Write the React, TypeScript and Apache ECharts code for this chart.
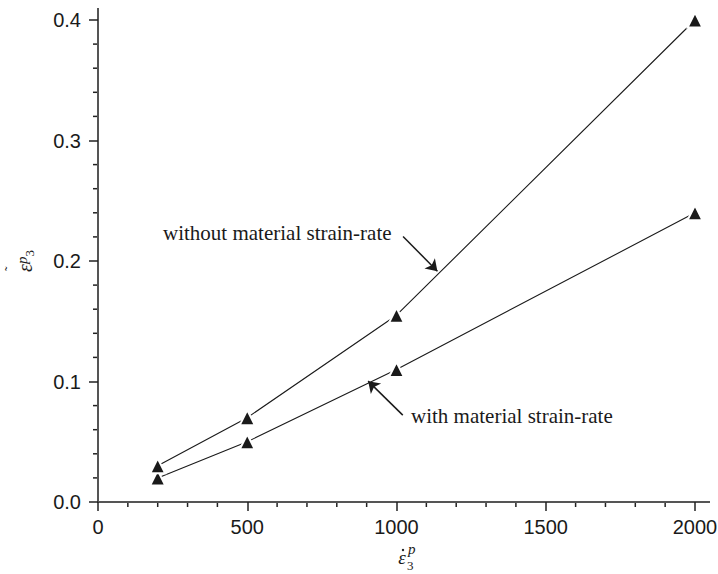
import { useEffect, useRef } from "react";
import * as echarts from "echarts";

// strain-rate levels and the plastic strain reached at each
const strainRates = [200, 500, 1000, 2000];
const withoutMaterialRate = [0.03, 0.07, 0.155, 0.4];
const withMaterialRate = [0.02, 0.05, 0.11, 0.24];

// axis ranges and tick spacing
const xRange = [0, 2000];
const xInterval = 500;
const yRange = [0, 0.4];
const yInterval = 0.1;
const xMinorTicks = [100, 200, 300, 400, 600, 700, 800, 900, 1100, 1200, 1300, 1400, 1600, 1700, 1800, 1900];
const yMinorTicks = [0.02, 0.04, 0.06, 0.08, 0.12, 0.14, 0.16, 0.18, 0.22, 0.24, 0.26, 0.28, 0.32, 0.34, 0.36, 0.38];

// annotation arrows, in data coordinates (tail, head)
const arrowWithout = [[1022, 0.2204], [1137, 0.1915]];
const arrowWith = [[1021, 0.0721], [905, 0.1003]];

const labelWithout = "without material strain-rate";
const labelWith = "with material strain-rate";

const INK = "#1a1a1a";
const AXIS = "#555";
const TICK = "#222";
const SANS = "'Liberation Sans', Arial, sans-serif";
const SERIF = "'Liberation Serif', 'Times New Roman', serif";

const W = 718;
const H = 574;
const GRID = { left: 98, right: 23, top: 20, bottom: 72 };
const MINOR_PX = 5;
const AXIS_OVERRUN = 14;

export default function App() {
  const ref = useRef<HTMLDivElement>(null);

  useEffect(() => {
    if (!ref.current) return;
    const chart = echarts.init(ref.current, undefined, { renderer: "svg" });

    const tickLine = { color: TICK, width: 1.5 };
    const markerStyle = { color: INK, borderColor: "#fff", borderWidth: 2 };

    chart.setOption({
      animation: false,
      backgroundColor: "#fff",
      grid: { ...GRID, containLabel: false, outerBoundsMode: "none" },
      xAxis: {
        type: "value",
        min: xRange[0],
        max: xRange[1],
        interval: xInterval,
        splitLine: { show: false },
        axisLine: { show: true, lineStyle: { color: AXIS, width: 2 } },
        axisTick: { show: true, inside: false, length: 9, lineStyle: tickLine },
        axisLabel: {
          margin: 15,
          fontSize: 20,
          fontFamily: SANS,
          color: INK,
          formatter: (v: number) => String(v),
        },
      },
      yAxis: {
        type: "value",
        min: yRange[0],
        max: yRange[1],
        interval: yInterval,
        splitLine: { show: false },
        axisLine: { show: true, lineStyle: { color: AXIS, width: 2 } },
        axisTick: { show: true, inside: false, length: 9, lineStyle: tickLine },
        axisLabel: {
          margin: 17,
          fontSize: 20,
          fontFamily: SANS,
          color: INK,
          formatter: (v: number) => v.toFixed(1),
        },
        // accumulated plastic strain: tilde over epsilon, superscript p, subscript 3
        name: "{t|˜}\n{e|ε}{sup|p}{sub|3}",
        nameLocation: "middle",
        nameRotate: 90,
        nameGap: 62,
        nameTextStyle: {
          color: INK,
          fontFamily: SERIF,
          rich: {
            t: { fontSize: 14, fontFamily: SERIF, color: INK, align: "left", lineHeight: 7, padding: [0, 0, 0, 1] },
            e: { fontSize: 20, fontStyle: "italic", fontFamily: SERIF, color: INK, lineHeight: 22 },
            sup: { fontSize: 15, fontStyle: "italic", fontFamily: SERIF, color: INK, verticalAlign: "top", lineHeight: 22 },
            sub: { fontSize: 13, fontFamily: SERIF, color: INK, verticalAlign: "bottom", lineHeight: 22 },
          },
        },
      },
      series: [
        {
          name: labelWithout,
          type: "line",
          data: strainRates.map((x, i) => [x, withoutMaterialRate[i]]),
          symbol: "triangle",
          symbolSize: 15,
          lineStyle: { color: INK, width: 1.1 },
          itemStyle: markerStyle,
          clip: false,
          z: 4,
        },
        {
          name: labelWith,
          type: "line",
          data: strainRates.map((x, i) => [x, withMaterialRate[i]]),
          symbol: "triangle",
          symbolSize: 15,
          lineStyle: { color: INK, width: 1.1 },
          itemStyle: markerStyle,
          clip: false,
          z: 3,
        },
        {
          type: "lines",
          coordinateSystem: "cartesian2d",
          symbol: ["none", "arrow"],
          symbolSize: [7, 11],
          lineStyle: { color: INK, width: 1.5, opacity: 1 },
          data: [{ coords: arrowWithout }, { coords: arrowWith }],
          z: 5,
        },
      ],
    });

    // place minor ticks and axis overruns from the axes' own scales
    const toPx = (pt: number[]) => chart.convertToPixel({ xAxisIndex: 0, yAxisIndex: 0 }, pt) as number[];
    const origin = toPx([xRange[0], yRange[0]]);
    const yTop = toPx([xRange[0], yRange[1]]);
    const xEnd = toPx([xRange[1], yRange[0]]);

    const tickStyle = { stroke: TICK, lineWidth: 1.5 };
    const minorTicks = [
      ...xMinorTicks.map((v) => {
        const p = toPx([v, yRange[0]]);
        return { type: "line", shape: { x1: p[0], y1: p[1], x2: p[0], y2: p[1] + MINOR_PX }, style: tickStyle };
      }),
      ...yMinorTicks.map((v) => {
        const p = toPx([xRange[0], v]);
        return { type: "line", shape: { x1: p[0], y1: p[1], x2: p[0] - MINOR_PX, y2: p[1] }, style: tickStyle };
      }),
    ];

    chart.setOption({
      graphic: [
        {
          type: "line",
          shape: { x1: origin[0], y1: yTop[1] - AXIS_OVERRUN + 2, x2: origin[0], y2: yTop[1] + 1 },
          style: { stroke: AXIS, lineWidth: 2 },
        },
        {
          type: "line",
          shape: { x1: xEnd[0] - 1, y1: xEnd[1], x2: xEnd[0] + AXIS_OVERRUN + 1, y2: xEnd[1] },
          style: { stroke: AXIS, lineWidth: 2 },
        },
        ...minorTicks,
        {
          type: "text",
          x: 163,
          y: 233,
          style: { text: labelWithout, font: `21px ${SERIF}`, fill: INK, verticalAlign: "middle" },
        },
        {
          type: "text",
          x: 411,
          y: 416,
          style: { text: labelWith, font: `21px ${SERIF}`, fill: INK, verticalAlign: "middle" },
        },
        // x-axis title: plastic strain rate
        {
          type: "group",
          x: 402,
          y: 557,
          children: [
            {
              type: "text",
              x: 0,
              y: 0,
              style: { text: "ε", font: `italic 19px ${SERIF}`, fill: INK, align: "center", verticalAlign: "middle" },
            },
            {
              type: "circle",
              shape: { cx: 1, cy: -7, r: 1.2 },
              style: { fill: INK },
            },
            {
              type: "text",
              x: 6,
              y: -8,
              style: { text: "p", font: `italic 15px ${SERIF}`, fill: INK, align: "left", verticalAlign: "middle" },
            },
            {
              type: "text",
              x: 5,
              y: 8,
              style: { text: "3", font: `13px ${SERIF}`, fill: INK, align: "left", verticalAlign: "middle" },
            },
          ],
        },
      ],
    });

    return () => chart.dispose();
  }, []);

  return (
    <div
      ref={ref}
      style={{ position: "fixed", left: 0, top: 0, width: W, height: H, background: "#fff" }}
    />
  );
}
